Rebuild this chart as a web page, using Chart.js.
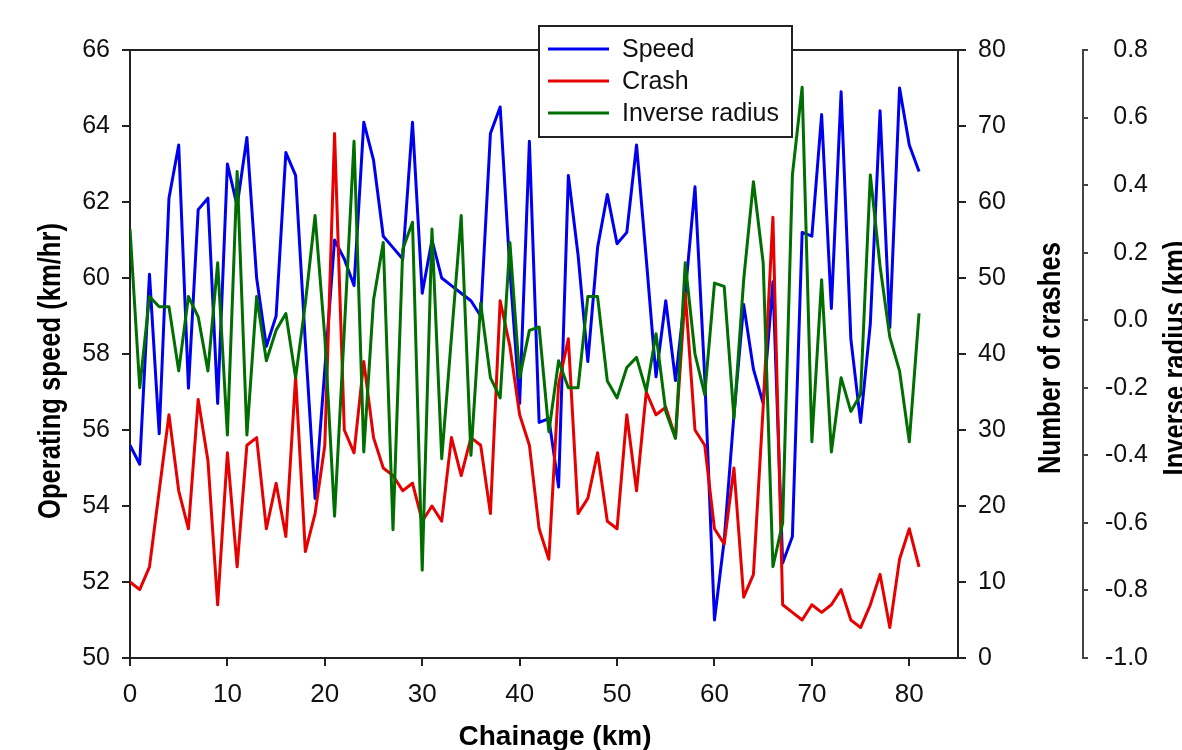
<!DOCTYPE html>
<html>
<head>
<meta charset="utf-8">
<title>Operating speed, crashes and inverse radius by chainage</title>
<script src="https://cdn.jsdelivr.net/npm/chart.js@4.4.1/dist/chart.umd.min.js"></script>
<style>
  html, body { margin: 0; padding: 0; background: #fff; }
  #wrap { width: 1182px; height: 750px; }
</style>
</head>
<body>
<div id="wrap"><canvas id="chart" width="1182" height="750"></canvas></div>
<script>
// chainage in km, one reading per km
const chainage = [0, 1, 2, 3, 4, 5, 6, 7, 8, 9, 10, 11, 12, 13, 14, 15, 16, 17, 18, 19,
    20, 21, 22, 23, 24, 25, 26, 27, 28, 29, 30, 31, 32, 33, 34, 35, 36, 37, 38, 39,
    40, 41, 42, 43, 44, 45, 46, 47, 48, 49, 50, 51, 52, 53, 54, 55, 56, 57, 58, 59,
    60, 61, 62, 63, 64, 65, 66, 67, 68, 69, 70, 71, 72, 73, 74, 75, 76, 77, 78, 79,
    80, 81];

// operating speed (km/hr)
const speed = [55.6, 55.1, 60.1, 55.9, 62.1, 63.5, 57.1, 61.8, 62.1, 56.7,
    63.0, 61.9, 63.7, 60.0, 58.2, 59.0, 63.3, 62.7, 58.3, 54.2,
    57.6, 61.0, 60.5, 59.8, 64.1, 63.1, 61.1, 60.8, 60.5, 64.1,
    59.6, 61.0, 60.0, 59.8, 59.6, 59.4, 59.0, 63.8, 64.5, 60.2,
    56.7, 63.6, 56.2, 56.3, 54.5, 62.7, 60.6, 57.8, 60.8, 62.2,
    60.9, 61.2, 63.5, 60.5, 57.4, 59.4, 57.3, 59.6, 62.4, 57.4,
    51.0, 53.1, 56.4, 59.3, 57.6, 56.7, 59.9, 52.5, 53.2, 61.2,
    61.1, 64.3, 59.2, 64.9, 58.4, 56.2, 58.8, 64.4, 58.7, 65.0,
    63.5, 62.8];

// number of crashes
const crashes = [10, 9, 12, 22, 32, 22, 17, 34, 26, 7,
    27, 12, 28, 29, 17, 23, 16, 37, 14, 19,
    28, 69, 30, 27, 39, 29, 25, 24, 22, 23,
    18, 20, 18, 29, 24, 29, 28, 19, 47, 41,
    32, 28, 17, 13, 36, 42, 19, 21, 27, 18,
    17, 32, 22, 35, 32, 33, 29, 48, 30, 28,
    17, 15, 25, 8, 11, 33, 58, 7, 6, 5,
    7, 6, 7, 9, 5, 4, 7, 11, 4, 13,
    17, 12];

// inverse radius (1/km)
const inverseRadius = [0.27, -0.20, 0.07, 0.04, 0.04, -0.15, 0.07, 0.01, -0.15, 0.17,
    -0.34, 0.44, -0.34, 0.07, -0.12, -0.03, 0.02, -0.17, 0.05, 0.31,
    -0.05, -0.58, -0.03, 0.53, -0.39, 0.06, 0.23, -0.62, 0.21, 0.29,
    -0.74, 0.27, -0.41, -0.05, 0.31, -0.40, 0.05, -0.17, -0.23, 0.23,
    -0.17, -0.03, -0.02, -0.33, -0.12, -0.20, -0.20, 0.07, 0.07, -0.18,
    -0.23, -0.14, -0.11, -0.21, -0.04, -0.27, -0.35, 0.17, -0.10, -0.22,
    0.11, 0.10, -0.29, 0.12, 0.41, 0.17, -0.73, -0.60, 0.43, 0.69,
    -0.36, 0.12, -0.39, -0.17, -0.27, -0.22, 0.43, 0.16, -0.05, -0.15,
    -0.36, 0.02];

const xTicks = [0, 10, 20, 30, 40, 50, 60, 70, 80];
const speedTicks = [50, 52, 54, 56, 58, 60, 62, 64, 66];
const crashTicks = [0, 10, 20, 30, 40, 50, 60, 70, 80];
const radiusTicks = [-1.0, -0.8, -0.6, -0.4, -0.2, 0.0, 0.2, 0.4, 0.6, 0.8];

const FONT = '"Liberation Sans", Arial, Helvetica, sans-serif';
const AXIS = '#222';

Chart.defaults.font.family = FONT;
Chart.defaults.color = '#111';

function pts(ys) {
    return chainage.map((x, i) => ({ x: x, y: ys[i] }));
}

function setTicks(list) {
    return function(scale) {
        scale.ticks = list.map(v => ({ value: v }));
    };
}

// rotated title, squeezed a little along its length like the original
function vText(ctx, text, x, y) {
    ctx.save();
    ctx.translate(x, y);
    ctx.rotate(-Math.PI / 2);
    ctx.scale(0.8, 1);
    ctx.fillText(text, 0, 0);
    ctx.restore();
}

// frame top, axis titles and the boxed legend
const decorations = {
    id: 'decorations',
    afterDraw(chart) {
        const ctx = chart.ctx;
        const a = chart.chartArea;
        ctx.save();
        ctx.strokeStyle = AXIS;
        ctx.lineWidth = 2;
        ctx.beginPath();
        ctx.moveTo(a.left, a.top);
        ctx.lineTo(a.right, a.top);
        ctx.stroke();

        ctx.fillStyle = '#000';
        ctx.font = 'bold 32px ' + FONT;
        ctx.textAlign = 'center';
        ctx.textBaseline = 'alphabetic';
        vText(ctx, 'Operating speed (km/hr)', 60, 371);
        vText(ctx, 'Number of crashes', 1060, 358);
        vText(ctx, 'Inverse radius (km)', 1185, 358);
        ctx.font = 'bold 28px ' + FONT;
        ctx.fillText('Chainage (km)', 555, 745);

        // legend
        const box = { x: 539, y: 26, w: 253, h: 111 };
        ctx.fillStyle = '#fff';
        ctx.fillRect(box.x, box.y, box.w, box.h);
        ctx.strokeStyle = AXIS;
        ctx.lineWidth = 2;
        ctx.strokeRect(box.x, box.y, box.w, box.h);
        ctx.font = '25px ' + FONT;
        ctx.textAlign = 'left';
        ctx.textBaseline = 'middle';
        chart.data.datasets.forEach((ds, i) => {
            const y = 49 + i * 32;
            ctx.strokeStyle = ds.borderColor;
            ctx.lineWidth = 3;
            ctx.beginPath();
            ctx.moveTo(548, y);
            ctx.lineTo(609, y);
            ctx.stroke();
            ctx.fillStyle = '#111';
            ctx.fillText(ds.label, 622, y + 1);
        });
        ctx.restore();
    }
};

const tickFont = { size: 25 };

new Chart(document.getElementById('chart'), {
    type: 'line',
    data: {
        datasets: [
            { label: 'Speed', data: pts(speed), yAxisID: 'y', borderColor: '#0000f0', order: 3 },
            { label: 'Crash', data: pts(crashes), yAxisID: 'y2', borderColor: '#e60000', order: 2 },
            { label: 'Inverse radius', data: pts(inverseRadius), yAxisID: 'y3', borderColor: '#006e00', order: 1 }
        ]
    },
    options: {
        responsive: false,
        animation: false,
        devicePixelRatio: 1,
        layout: { padding: { top: 50, right: 34, bottom: 0, left: 0 } },
        elements: {
            line: { borderWidth: 3, tension: 0, borderJoinStyle: 'round', fill: false },
            point: { radius: 0, hoverRadius: 0 }
        },
        plugins: {
            legend: { display: false },
            tooltip: { enabled: false }
        },
        scales: {
            x: {
                type: 'linear',
                position: 'bottom',
                min: 0,
                max: 85,
                afterBuildTicks: setTicks(xTicks),
                afterFit: s => { s.height = 92; },
                ticks: { font: { size: 26 }, padding: 13, maxRotation: 0 },
                grid: { drawOnChartArea: false, tickLength: 8, color: AXIS, lineWidth: 2 },
                border: { color: AXIS, width: 2 }
            },
            y: {
                position: 'left',
                min: 50,
                max: 66,
                afterBuildTicks: setTicks(speedTicks),
                afterFit: s => { s.width = 130; },
                ticks: { font: tickFont, padding: 12 },
                grid: { drawOnChartArea: false, tickLength: 8, color: AXIS, lineWidth: 2 },
                border: { color: AXIS, width: 2 }
            },
            y2: {
                position: 'right',
                weight: 0,
                min: 0,
                max: 80,
                afterBuildTicks: setTicks(crashTicks),
                afterFit: s => { s.width = 125; },
                ticks: { font: tickFont, padding: 12 },
                grid: { drawOnChartArea: false, tickLength: 8, color: AXIS, lineWidth: 2 },
                border: { color: AXIS, width: 2 }
            },
            y3: {
                position: 'right',
                weight: 1,
                min: -1.0,
                max: 0.8,
                afterBuildTicks: setTicks(radiusTicks),
                afterFit: s => { s.width = 65; },
                ticks: {
                    font: tickFont,
                    padding: 19,
                    crossAlign: 'far',
                    callback: v => v.toFixed(1)
                },
                grid: { drawOnChartArea: false, tickLength: 5, color: '#444', lineWidth: 2 },
                border: { color: '#444', width: 2 }
            }
        }
    },
    plugins: [decorations]
});
</script>
</body>
</html>
